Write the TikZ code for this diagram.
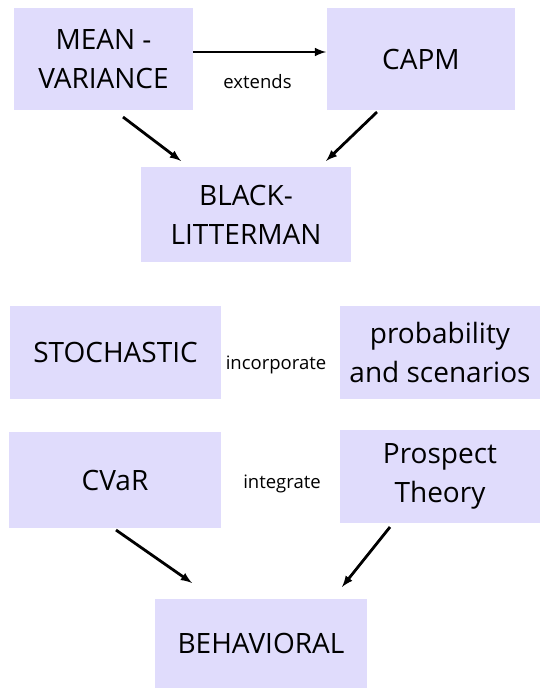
\documentclass[tikz,border=0pt]{standalone}
\usepackage{fontspec}
\setmainfont{Open Sans}
\definecolor{lavender}{RGB}{224,220,252}
\begin{document}
\begin{tikzpicture}[x=1bp,y=-1bp,
  block/.style={fill=lavender, inner sep=0, align=center, font=\fontsize{28bp}{39bp}\selectfont},
  linklabel/.style={inner sep=0, font=\fontsize{18.5bp}{22bp}\selectfont},
  link/.style={line width=2.8bp, -latex}]
\useasboundingbox (0,0) rectangle (540,688);

% top group
\node [block, minimum width=179, minimum height=102] (mv) at (103.5,59) {MEAN -\\VARIANCE};
\node [block, minimum width=188, minimum height=102] (capm) at (421,59) {CAPM};
\node [block, minimum width=210, minimum height=95] (bl) at (246,214.5) {BLACK-\\LITTERMAN};
\node [linklabel] (ext) at (257.5,82) {extends};
% top arrows
\draw [link] ([shift={(0,-7)}]mv.east) -- ([shift={(-1,-7)}]capm.west);
\draw [link] ([shift={(19.5,7)}]mv.south) -- ([shift={(-65,-6)}]bl.north);
\draw [link] ([shift={(-44,2)}]capm.south) -- ([shift={(80,-6)}]bl.north);

% middle row
\node [block, minimum width=211, minimum height=93] (sto) at (115.5,352.5) {STOCHASTIC};
\node [block, minimum width=200, minimum height=93] (prob) at (440,352.5) {probability\\and scenarios};
\node [linklabel] (inc) at (276,365) {incorporate};

% bottom group
\node [block, minimum width=212, minimum height=96] (cvar) at (115,480) {CVaR};
\node [block, minimum width=200, minimum height=93] (pt) at (440,476.5) {Prospect\\Theory};
\node [linklabel] (integ) at (282,484) {integrate};
\node [block, minimum width=212, minimum height=89] (beh) at (261,643.5) {BEHAVIORAL};
% bottom arrows
\draw [link] ([shift={(1,2)}]cvar.south) -- ([shift={(-69,-16)}]beh.north);
\draw [link] ([shift={(-50,4)}]pt.south) -- ([shift={(81,-12)}]beh.north);

\end{tikzpicture}
\end{document}
